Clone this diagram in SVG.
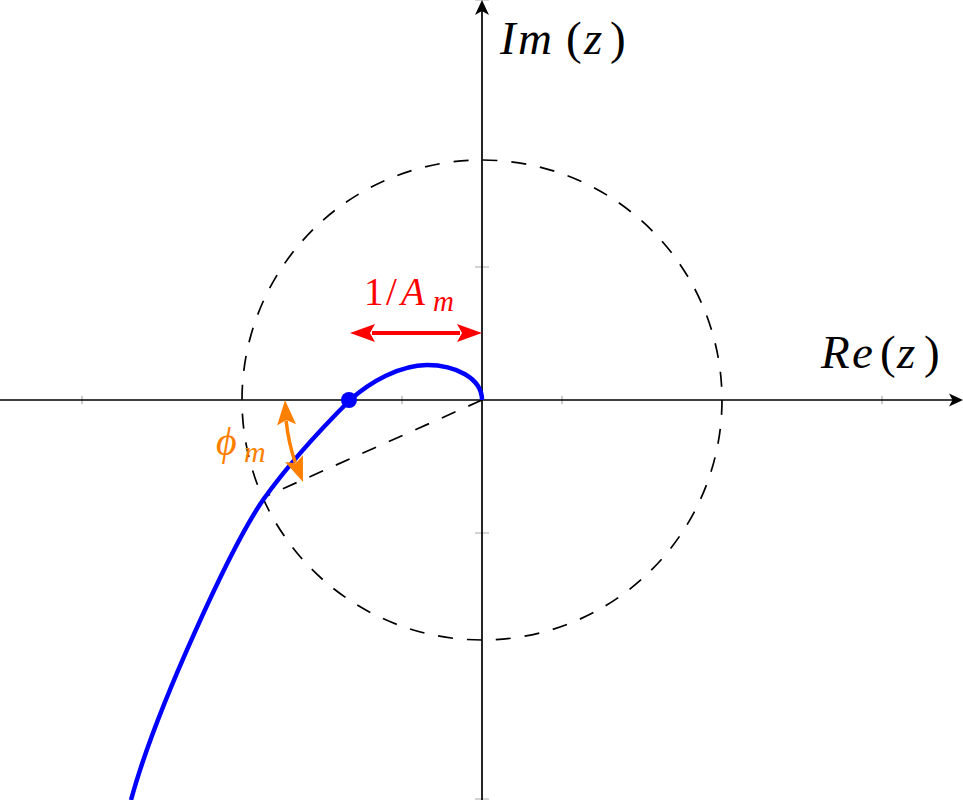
<svg xmlns="http://www.w3.org/2000/svg" width="963" height="800" viewBox="0 0 963 800">
<style>
.axis{stroke:#000;stroke-width:1.7;fill:none}
.tick{stroke:#aaa;stroke-width:1.2}
.dash{stroke:#000;stroke-width:1.7;fill:none;stroke-dasharray:15 14}
.m{font-family:'Liberation Serif','Times New Roman','DejaVu Serif','Noto Serif',serif;font-style:italic}
.up{font-style:normal}
</style>
<rect width="963" height="800" fill="#fff"/>
<g id="ticks">
<path class="tick" d="M82,396V404M402,396V404M562,396V404M882,396V404M475,0H489M475,267H489M475,533H489M475,799H489"/>
</g>
<g id="circle">
<circle class="dash" cx="482" cy="400" r="240"/>
<path class="dash" d="M482,400L263,497.6"/>
</g>
<g id="axes">
<path class="axis" d="M0,400H954M482,800V6"/>
<path d="M963,400L949,393.5L952.5,400L949,406.5Z" fill="#000"/>
<path d="M482,0L475,15L482,11L489,15Z" fill="#000"/>
</g>
<g id="curve">
<path d="M482,400C482,378 455,365 427,365C400,365 370,382 350,400C325,425 290,462 263,500C232,545 156,708 131,800" fill="none" stroke="#0000ff" stroke-width="4.5"/>
<circle cx="349" cy="400" r="8" fill="#0000ff"/>
</g>
<g id="gain-margin">
<path d="M372,333H460" stroke="#ff0000" stroke-width="4"/>
<path d="M0,0L-25,-9L-20,0L-25,9Z" fill="#ff0000" transform="translate(350,333) rotate(180)"/>
<path d="M0,0L-25,-9L-20,0L-25,9Z" fill="#ff0000" transform="translate(482,333)"/>
<text class="m" font-size="39" fill="#ff0000"><tspan class="up" x="364" y="305">1</tspan><tspan class="up" x="386" y="305">/</tspan><tspan x="401" y="305">A</tspan><tspan x="433" y="311" font-size="29">m</tspan></text>
</g>
<g id="phase-margin">
<path d="M286.1,420.6A197,197 0 0 0 295.3,462.8" fill="none" stroke="#ff8000" stroke-width="3.5"/>
<path d="M0,0L-25,-9.5L-20,0L-25,9.5Z" fill="#ff8000" transform="translate(285,400) rotate(-93.6)"/>
<path d="M0,0L-25,-9.5L-20,0L-25,9.5Z" fill="#ff8000" transform="translate(303,482) rotate(69)"/>
<text class="m" font-size="40" fill="#ff8000"><tspan x="216" y="455">ϕ</tspan><tspan x="244" y="462" font-size="30">m</tspan></text>
</g>
<g id="labels">
<text class="m" font-size="47"><tspan x="500" y="54">I</tspan><tspan x="518" y="54">m</tspan><tspan class="up" x="566" y="54">(</tspan><tspan x="584" y="54">z</tspan><tspan class="up" x="610" y="54">)</tspan></text>
<text class="m" font-size="47"><tspan x="821" y="368">R</tspan><tspan x="852" y="368">e</tspan><tspan class="up" x="880" y="368">(</tspan><tspan x="897" y="368">z</tspan><tspan class="up" x="924" y="368">)</tspan></text>
</g>
</svg>
